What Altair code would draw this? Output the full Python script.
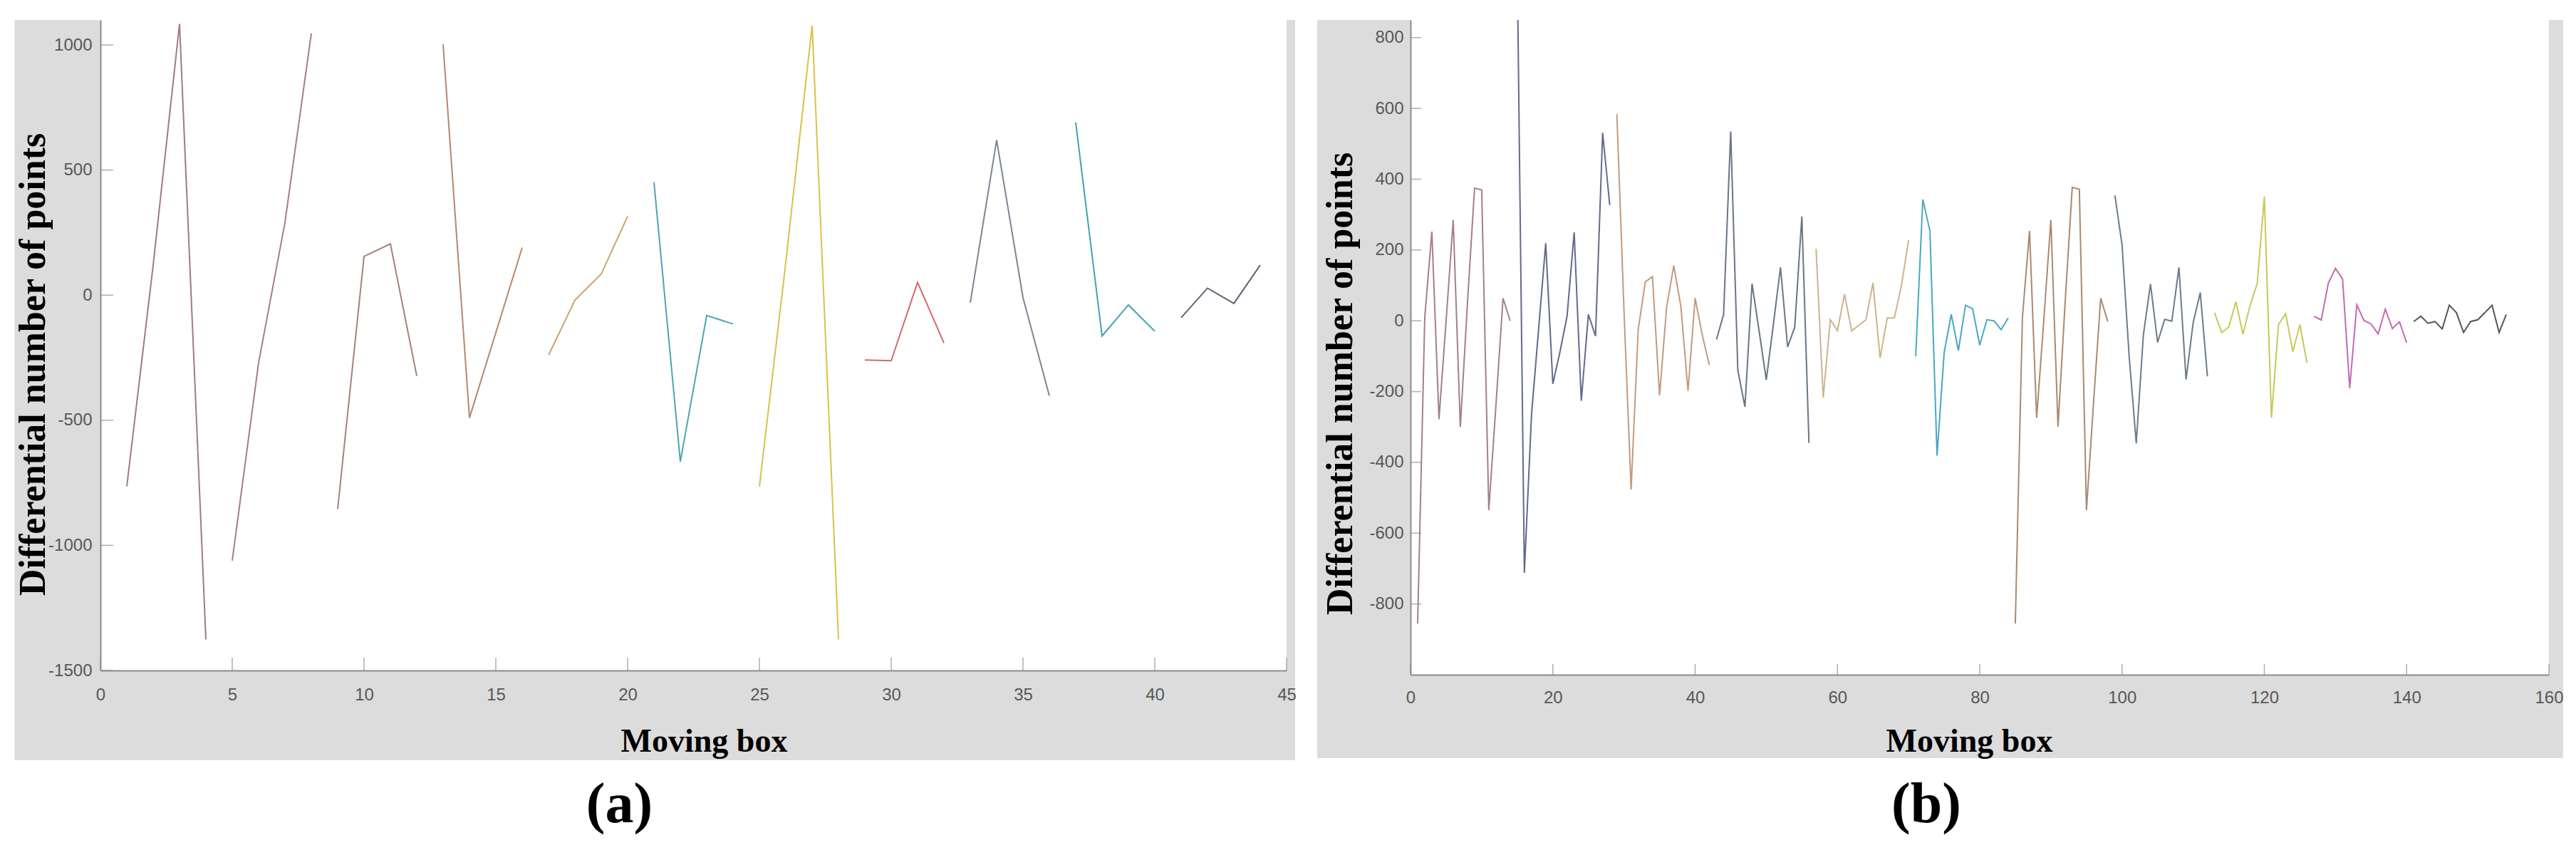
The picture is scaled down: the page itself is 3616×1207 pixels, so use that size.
import altair as alt
import pandas as pd

# ---------------- Panel (a) data ----------------
a_x = list(range(1, 45))
a_y = [-764, 120, 1084, -1376,
       -1061, -270, 290, 1046,
       -855, 155, 205, -323,
       1003, -490, -150, 190,
       -240, -20, 85, 315,
       452, -665, -81, -115,
       -765, 130, 1078, -1376,
       -259, -262, 51, -191,
       -30, 620, -10, -402,
       690, -163, -39, -144,
       -90, 28, -33, 120]
a_seg = ["a%02d" % (i // 4) for i in range(44)]
a_colors = ["#a0788f", "#a57c88", "#a8807a", "#b8866a", "#c9a56e", "#4fa4b4",
            "#d9c24a", "#d46a6a", "#7b8794", "#3fa3b3", "#5d6572"]
a_xticks = [0, 5, 10, 15, 20, 25, 30, 35, 40, 45]
a_yticks = [-1500, -1000, -500, 0, 500, 1000]

# ---------------- Panel (b) data ----------------
b_s1 = [-855, 10, 252, -278, 0, 285, -300, 50, 375, 370, -535, -240, 64, 0]
b_s2 = [1000, -712, -266, -24, 219, -178, -88, 13, 250, -226, 18, -43, 531, 327]
b_s3 = [584, 30, -477, -25, 110, 125, -211, 40, 156, 40, -198, 64, -40, -125]
b_s4 = [-53, 18, 535, -140, -243, 105, -30, -167, -10, 151, -74, -18, 295, -345]
b_s5 = [203, -217, 3, -28, 75, -28, -13, 3, 107, -105, 8, 8, 100, 228]
b_s6 = [-100, 343, 254, -381, -90, 18, -84, 44, 34, -69, 3, 0, -25, 8]
b_s7 = [-855, 10, 254, -274, 0, 285, -299, 50, 377, 372, -535, -230, 64, -2]
b_s8 = [354, 215, -100, -346, -40, 104, -61, 4, -1, 151, -166, -5, 80, -157]
b_s9 = [23, -33, -18, 54, -38, 44, 105, 351, -274, -10, 20, -87, -11, -119]
b_s10 = [13, 2, 107, 148, 118, -190, 45, 1, -9, -37, 33, -22, -3, -62]
b_s11 = [-2, 13, -7, -2, -23, 44, 23, -33, -2, 3, 23, 44, -33, 18]
b_y = b_s1 + b_s2 + b_s3 + b_s4 + b_s5 + b_s6 + b_s7 + b_s8 + b_s9 + b_s10 + b_s11
b_x = list(range(1, len(b_y) + 1))
b_seg = ["b%02d" % (i // 14) for i in range(len(b_y))]
b_colors = ["#a47e90", "#626a8e", "#c49a7a", "#687686", "#cdb48a", "#4aa8c0",
            "#a88a70", "#6a7c8c", "#c8c85a", "#c46ab4", "#555555"]
b_xticks = [0, 20, 40, 60, 80, 100, 120, 140, 160]
b_yticks = [-800, -600, -400, -200, 0, 200, 400, 600, 800]

GRAY = "#dcdcdc"
AXC = "#8c8c8c"
LBC = "#575757"


def panel(xs, ys, segs, colors, xdom, ydom, xticks, yticks, w, h,
          bg_l, bg_r, bg_b, ylab_pad, xlab_pad, ytx, yty, xtx, xty, tick_len,
          caption, cap_dx, cap_off):
    df = pd.DataFrame({"x": xs, "v": ys, "seg": segs})
    xs_scale = alt.Scale(domain=xdom, nice=False, zero=False)
    ys_scale = alt.Scale(domain=ydom, nice=False, zero=False)
    one = pd.DataFrame({"k": [0]})

    xaxis = alt.Axis(values=xticks, ticks=False, grid=False, domainColor=AXC,
                     domainWidth=2, labelFont="Liberation Sans", labelFontSize=24,
                     labelColor=LBC, labelPadding=xlab_pad, labelFlush=False,
                     labelOverlap=False, labelExpr="datum.value + ''",
                     title="Moving box", titleFont="Liberation Serif",
                     titleFontSize=46, titleFontWeight="bold", titleColor="black",
                     titleX=xtx, titleY=xty, titleAlign="center",
                     titleBaseline="alphabetic", zindex=1)
    yaxis = alt.Axis(values=yticks, ticks=False, grid=False, domainColor=AXC,
                     domainWidth=2, labelFont="Liberation Sans", labelFontSize=24,
                     labelColor=LBC, labelPadding=ylab_pad, labelOverlap=False,
                     labelExpr="datum.value + ''",
                     title="Differential number of points",
                     titleFont="Liberation Serif", titleFontSize=52,
                     titleFontWeight="bold", titleColor="black",
                     titleX=ytx, titleY=yty, titleAngle=270, titleAlign="center",
                     titleBaseline="middle", zindex=1)

    bg = alt.Chart(one).mark_rect(color=GRAY, clip=False).encode(
        x=alt.value(-bg_l), x2=alt.value(w + bg_r),
        y=alt.value(0), y2=alt.value(h + bg_b))
    plotbg = alt.Chart(one).mark_rect(color="white", clip=False).encode(
        x=alt.value(0), x2=alt.value(w), y=alt.value(0), y2=alt.value(h))

    lines = alt.Chart(df).mark_line(strokeWidth=2, clip=True).encode(
        x=alt.X("x:Q", scale=xs_scale, axis=xaxis),
        y=alt.Y("v:Q", scale=ys_scale, axis=yaxis),
        color=alt.Color("seg:N", scale=alt.Scale(domain=sorted(set(segs)), range=colors),
                        legend=None),
    )
    yt = alt.Chart(pd.DataFrame({"v": yticks})).mark_tick(
        color=AXC, thickness=1.5, size=tick_len).encode(
        y=alt.Y("v:Q", scale=ys_scale, axis=yaxis), x=alt.value(tick_len / 2))
    xt = alt.Chart(pd.DataFrame({"x": xticks})).mark_tick(
        color=AXC, thickness=1.5, size=tick_len).encode(
        x=alt.X("x:Q", scale=xs_scale, axis=xaxis), y=alt.value(h - tick_len / 2))

    return alt.layer(bg, plotbg, lines, yt, xt).properties(
        width=w, height=h,
        title=alt.TitleParams(caption, orient="bottom", anchor="middle", frame="group",
                              dx=cap_dx, offset=cap_off, font="Liberation Serif",
                              fontSize=80, fontWeight="bold", color="black"))


pa = panel(a_x, a_y, a_seg, a_colors, [0, 45], [-1500, 1100], a_xticks, a_yticks,
           w=1665, h=913, bg_l=120.5, bg_r=12, bg_b=126, ylab_pad=12, xlab_pad=22,
           ytx=-95, yty=483, xtx=847, xty=113, tick_len=18,
           caption="(a)", cap_dx=-104, cap_off=24)
pb = panel(b_x, b_y, b_seg, b_colors, [0, 160], [-1000, 850], b_xticks, b_yticks,
           w=1598, h=919, bg_l=131, bg_r=20, bg_b=117, ylab_pad=10, xlab_pad=20,
           ytx=-98.5, yty=510, xtx=784, xty=107, tick_len=15,
           caption="(b)", cap_dx=-75, cap_off=27)

chart = alt.hconcat(pa, pb, spacing=28).resolve_scale(
    color="independent", x="independent", y="independent"
).properties(
    padding={"left": 11, "top": 19, "right": 0, "bottom": 0}
).configure_view(stroke=None).configure(background="white")

chart.save("out.html", embed_options={"renderer": "svg", "actions": False})
